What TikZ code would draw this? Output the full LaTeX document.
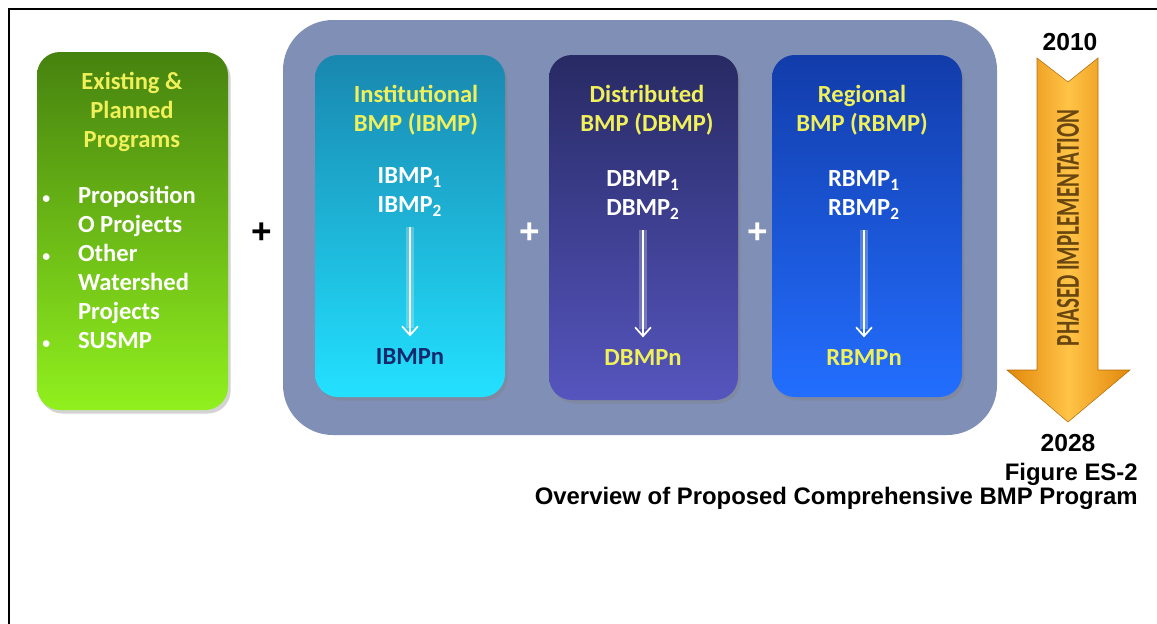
\documentclass[tikz,border=0pt]{standalone}
\usepackage{fontspec}
\setmainfont{Carlito}
\newfontfamily\capfont{Liberation Sans}
\usetikzlibrary{fit,shadows,arrows.meta}

\definecolor{panelgray}{RGB}{127,143,181}
\definecolor{headyellow}{RGB}{240,240,90}
\definecolor{greentop}{RGB}{70,130,15}
\definecolor{greenbot}{RGB}{145,240,30}
\definecolor{insttop}{RGB}{25,135,175}
\definecolor{instbot}{RGB}{35,225,255}
\definecolor{disttop}{RGB}{40,42,100}
\definecolor{distbot}{RGB}{85,85,190}
\definecolor{regtop}{RGB}{18,60,170}
\definecolor{regbot}{RGB}{35,110,255}
\definecolor{navytext}{RGB}{20,40,110}
\definecolor{arrowdark}{RGB}{225,135,10}
\definecolor{arrowlight}{RGB}{255,195,70}
\definecolor{phasetext}{RGB}{105,70,15}

\newcommand{\bul}{\makebox[1.45em][l]{\fontsize{9}{9}\selectfont\textbullet}}
\newcommand{\nobul}{\makebox[1.45em][l]{}}

\begin{document}
\begin{tikzpicture}[x=0.02cm,y=-0.02cm,
  box/.style={rounded corners=13pt, inner sep=0pt,
    drop shadow={opacity=0.35, shadow xshift=1.5pt, shadow yshift=-2pt}},
  boxtext/.style={font=\fontsize{14}{16.5}\selectfont\bfseries, align=center, inner sep=0pt},
  head/.style={boxtext, text=headyellow},
  item/.style={boxtext, text=white},
  flow/.style={white, line width=1pt, -{Straight Barb[length=5pt,width=9pt]}},
  glow/.style={white, opacity=0.25, line width=5pt},
  plus/.style={font=\capfont\fontsize{20}{20}\selectfont\bfseries, inner sep=0pt},
  year/.style={font=\capfont\fontsize{14}{14}\selectfont\bfseries, inner sep=0pt},
  caption/.style={font=\capfont\fontsize{13.6}{16}\selectfont\bfseries, anchor=east, inner sep=0pt}]

  \useasboundingbox (0,0) rectangle (1157,623);
  \clip (0,0) rectangle (1157,623);

  % frame
  \draw[line width=0.9pt] (9,9) rectangle (1170,640);

  % existing programs
  \node[box, top color=greentop, bottom color=greenbot, fit={(37,52) (228,410)}] (prog) {};
  \node[head] (proghead) at (132,112) {Existing \&\\Planned\\Programs};
  \node[item, align=left, anchor=west] (proglist) at (42,267)
    {\bul Proposition\\\nobul O Projects\\\bul Other\\
     \nobul Watershed\\\nobul Projects\\\bul SUSMP};

  \node[plus] (plusa) at (262,233) {+};

  % BMP panel
  \node[fill=panelgray, rounded corners=1cm, inner sep=0pt, fit={(283,20) (997,435)}] (panel) {};

  % institutional
  \node[box, top color=insttop, bottom color=instbot, fit={(315,55) (505,397)}] (inst) {};
  \node[head] (insthead) at (416,110) {Institutional\\BMP (IBMP)};
  \node[item] (inst12) at (410,192) {IBMP\textsubscript{1}\\IBMP\textsubscript{2}};
  \node[boxtext, text=navytext] (instn) at (410,357) {IBMPn};
  \draw[glow] ([yshift=-6pt]inst12.south) -- ([yshift=12pt]instn.north);
  \draw[flow] ([yshift=-6pt]inst12.south) -- ([yshift=7pt]instn.north);

  \node[plus, white] (plusb) at (530,233) {+};

  % distributed
  \node[box, top color=disttop, bottom color=distbot, fit={(549,55) (738,400)}] (dist) {};
  \node[head] (disthead) at (647,110) {Distributed\\BMP (DBMP)};
  \node[item] (dist12) at (643,195) {DBMP\textsubscript{1}\\DBMP\textsubscript{2}};
  \node[head] (distn) at (643,358) {DBMPn};
  \draw[glow] ([yshift=-6pt]dist12.south) -- ([yshift=12pt]distn.north);
  \draw[flow] ([yshift=-6pt]dist12.south) -- ([yshift=7pt]distn.north);

  \node[plus, white] (plusc) at (758,233) {+};

  % regional
  \node[box, top color=regtop, bottom color=regbot, fit={(772,55) (962,397)}] (reg) {};
  \node[head] (reghead) at (862,110) {Regional\\BMP (RBMP)};
  \node[item] (reg12) at (864,195) {RBMP\textsubscript{1}\\RBMP\textsubscript{2}};
  \node[head] (regn) at (864,358) {RBMPn};
  \draw[glow] ([yshift=-6pt]reg12.south) -- ([yshift=12pt]regn.north);
  \draw[flow] ([yshift=-6pt]reg12.south) -- ([yshift=7pt]regn.north);

  % phased implementation arrow
  \shade[left color=arrowdark, right color=arrowdark, middle color=arrowlight,
         draw=arrowdark!80!black, line width=0.3pt]
    (1037,58) -- (1068,82) -- (1098,58) -- (1098,370) -- (1130,370)
    -- (1068,422) -- (1007,370) -- (1037,370) -- cycle;
  \node[rotate=90, text=phasetext, font=\fontsize{19}{19}\selectfont\bfseries, inner sep=0pt]
    (phase) at (1068,228) {\scalebox{0.63}[1]{PHASED IMPLEMENTATION}};
  \node[year] (start) at (1070,42) {2010};
  \node[year] (finish) at (1068,443) {2028};

  % caption
  \node[caption] (fignum) at (1138,474) {Figure ES-2};
  \node[caption] (figtitle) at (1138,498) {Overview of Proposed Comprehensive BMP Program};
\end{tikzpicture}
\end{document}
